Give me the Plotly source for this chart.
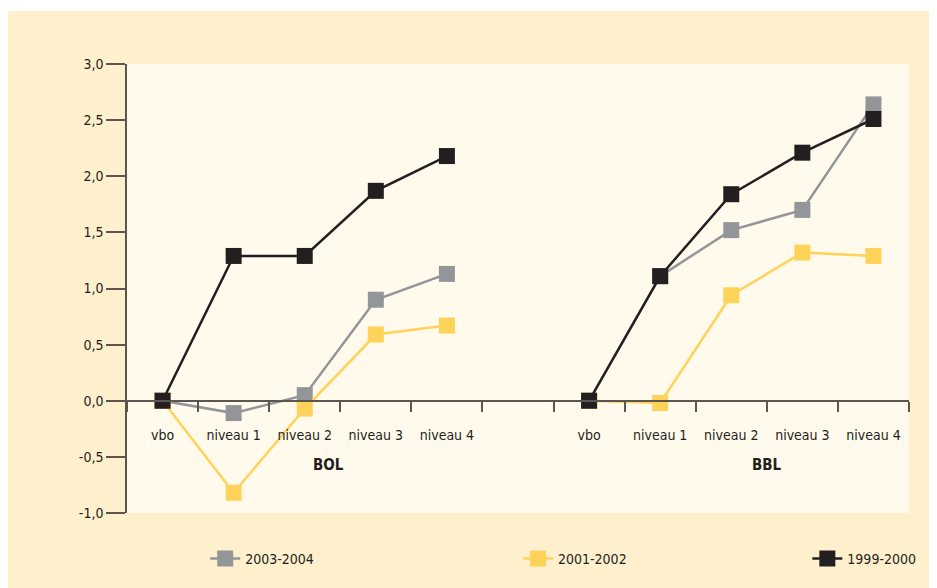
import plotly.graph_objects as go

categories = ["vbo", "niveau 1", "niveau 2", "niveau 3", "niveau 4"]
groups = ["BOL", "BBL"]

# values per series: BOL then BBL
s2003_bol = [0.0, -0.11, 0.05, 0.90, 1.13]
s2003_bbl = [0.0, 1.11, 1.52, 1.70, 2.64]
s2001_bol = [0.0, -0.82, -0.07, 0.59, 0.67]
s2001_bbl = [0.0, -0.02, 0.94, 1.32, 1.29]
s1999_bol = [0.0, 1.29, 1.29, 1.87, 2.18]
s1999_bbl = [0.0, 1.11, 1.84, 2.21, 2.51]

series_names = ["2003-2004", "2001-2002", "1999-2000"]
series_colors = ["#939598", "#FFD35A", "#231F20"]
series_bol = [s2003_bol, s2001_bol, s1999_bol]
series_bbl = [s2003_bbl, s2001_bbl, s1999_bbl]

y_ticks = [-1.0, -0.5, 0.0, 0.5, 1.0, 1.5, 2.0, 2.5, 3.0]
y_ticktext = ["-1,0", "-0,5", "0,0", "0,5", "1,0", "1,5", "2,0", "2,5", "3,0"]

FONT = "DejaVu Sans Condensed, Liberation Sans Narrow, sans-serif"
TXT = "#231F20"
AXC = "#5B5650"
OUTER = "#FEF0CD"
INNER = "#FFFAEB"

n = len(categories)
x_all = list(range(2 * n + 1))
gap_index = n

fig = go.Figure()
legend_ids = ["legend", "legend2", "legend3"]
for name, color, bol, bbl, lg in zip(series_names, series_colors, series_bol, series_bbl, legend_ids):
    y = list(bol) + [None] + list(bbl)
    fig.add_trace(go.Scatter(
        x=x_all, y=y, name=name, mode="lines+markers",
        line=dict(color=color, width=2.5),
        marker=dict(symbol="square", size=16, color=color, line=dict(width=0)),
        connectgaps=False, legend=lg, showlegend=True,
    ))

tickvals = [i for i in x_all if i != gap_index]
ticktext = categories + categories

ymin, ymax = y_ticks[0], y_ticks[-1]
zero_pos = (0 - ymin) / (ymax - ymin)

fig.update_layout(
    width=929, height=580,
    margin=dict(l=119, r=28, t=56, b=75, autoexpand=False),
    paper_bgcolor="white",
    plot_bgcolor=INNER,
    font=dict(family=FONT, size=14, color=TXT),
    xaxis=dict(
        range=[-0.5, 2 * n + 0.5],
        tickmode="array", tickvals=tickvals, ticktext=ticktext,
        ticks="outside", ticklen=22, tickcolor="rgba(0,0,0,0)",
        minor=dict(tickmode="linear", tick0=0.5, dtick=1, ticks="outside",
                   ticklen=10, tickwidth=1.5, tickcolor=AXC),
        showline=True, linecolor=AXC, linewidth=1.5,
        showgrid=False, zeroline=False,
        anchor="free", position=zero_pos,
        tickfont=dict(size=14, color=TXT, family=FONT),
        fixedrange=True,
    ),
    yaxis=dict(
        range=[ymin, ymax], tickmode="array", tickvals=y_ticks, ticktext=y_ticktext,
        ticks="outside", ticklen=19, tickwidth=1.5, tickcolor=AXC,
        showline=True, linecolor=AXC, linewidth=1.5,
        showgrid=False, zeroline=False,
        tickfont=dict(size=14, color=TXT, family=FONT),
    ),
    shapes=[
        dict(type="rect", xref="paper", yref="paper",
             x0=-0.16, x1=1.05, y0=-0.18, y1=1.118,
             fillcolor=OUTER, line=dict(width=0), layer="below"),
        dict(type="rect", xref="paper", yref="paper",
             x0=0, x1=1, y0=0, y1=1,
             fillcolor=INNER, line=dict(width=0), layer="below"),
    ],
)

group_label_x = [2.33, 8.5]
for g, gx in zip(groups, group_label_x):
    fig.add_annotation(x=gx, y=-0.57, xref="x", yref="y", text="<b>%s</b>" % g,
                       showarrow=False, font=dict(size=15, color=TXT, family=FONT))

legend_x = [0.10, 0.50, 0.87]
for lg, lx in zip(legend_ids, legend_x):
    fig.update_layout(**{lg: dict(x=lx, y=-0.102, xanchor="left", yanchor="middle",
                                  orientation="h", bgcolor="rgba(0,0,0,0)",
                                  font=dict(size=14, color=TXT, family=FONT))})

fig.write_html("out.html")
